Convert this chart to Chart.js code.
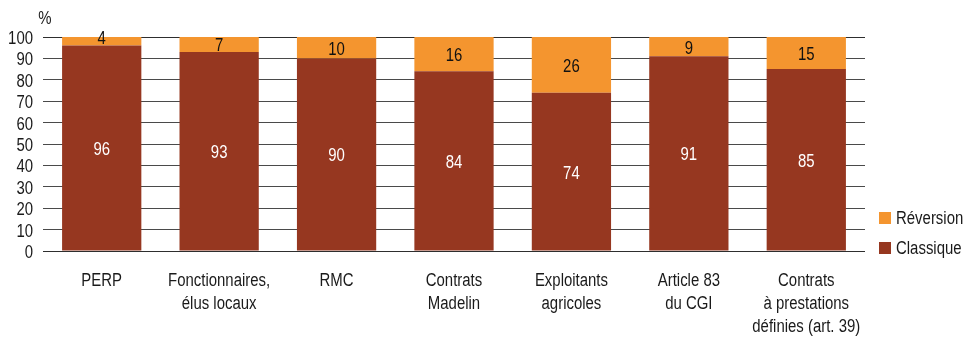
<!DOCTYPE html>
<html lang="fr">
<head>
<meta charset="utf-8">
<script src="https://cdn.jsdelivr.net/npm/chart.js@4"></script>
<style>
  html, body { margin: 0; padding: 0; background: #fff; }
  #wrap { position: relative; width: 964px; height: 338px; }
</style>
</head>
<body>
<div id="wrap"><canvas id="c" width="964" height="338"></canvas></div>
<script>
// Répartition des pensions : droits propres (classique) et droits dérivés (réversion), en %
const categories = [
  ["PERP"],
  ["Fonctionnaires,", "élus locaux"],
  ["RMC"],
  ["Contrats", "Madelin"],
  ["Exploitants", "agricoles"],
  ["Article 83", "du CGI"],
  ["Contrats", "à prestations", "définies (art. 39)"]
];
const classique = [96, 93, 90, 84, 74, 91, 85];
const reversion = [4, 7, 10, 16, 26, 9, 15];
const yTicks = [0, 10, 20, 30, 40, 50, 60, 70, 80, 90, 100];

const FONT = "'Liberation Sans', Arial, sans-serif";
const FONT_SIZE = 18;
const NARROW = 0.83;          // chasse étroite (type Arial Narrow)
const TEXT = "#1a1a1a";
const COL_CLASSIQUE = "#963720";
const COL_REVERSION = "#F4952F";

// Texte en chasse étroite : compression horizontale du tracé
function narrowText(ctx, str, x, y, align, color) {
  ctx.save();
  ctx.font = FONT_SIZE + "px " + FONT;
  ctx.fillStyle = color || TEXT;
  ctx.textAlign = align;
  ctx.textBaseline = "middle";
  ctx.translate(x, y);
  ctx.scale(NARROW, 1);
  ctx.fillText(str, 0, 0);
  ctx.restore();
}

// Libellés des axes, dessinés à partir des échelles du graphique
const axisLabels = {
  id: "axisLabels",
  afterDraw(chart) {
    const ctx = chart.ctx;
    const xs = chart.scales.x, ys = chart.scales.y;
    ys.ticks.forEach(t => {
      narrowText(ctx, String(t.value), xs.left - 10, ys.getPixelForValue(t.value) + 2, "right");
    });
    chart.data.labels.forEach((lines, i) => {
      const cx = xs.getPixelForTick(i);
      lines.forEach((line, k) => {
        narrowText(ctx, line, cx, xs.top + 30 + k * 23, "center");
      });
    });
    narrowText(ctx, "%", 45, 19, "center");
  }
};

// Valeur écrite au centre de chaque segment (en haut si le segment est trop fin)
const segmentLabels = {
  id: "segmentLabels",
  afterDatasetsDraw(chart) {
    chart.data.datasets.forEach((ds, di) => {
      chart.getDatasetMeta(di).data.forEach((bar, i) => {
        const h = Math.abs(bar.base - bar.y);
        const y = h < 12 ? Math.min(bar.y, bar.base) + 2 : (bar.y + bar.base) / 2 + 2;
        narrowText(chart.ctx, String(ds.data[i]), bar.x, y, "center", ds.labelColor);
      });
    });
  }
};

// Légende à droite (Réversion au-dessus de Classique)
const sideLegend = {
  id: "sideLegend",
  afterDraw(chart) {
    const ctx = chart.ctx;
    const x0 = chart.chartArea.right + 14;
    const items = [chart.data.datasets[1], chart.data.datasets[0]];
    const rows = [218, 248];
    items.forEach((ds, k) => {
      ctx.fillStyle = ds.backgroundColor;
      ctx.fillRect(x0, rows[k] - 6, 12, 12);
      narrowText(ctx, ds.label, x0 + 17, rows[k] + 1, "left");
    });
  }
};

new Chart(document.getElementById("c"), {
  type: "bar",
  data: {
    labels: categories,
    datasets: [
      { label: "Classique", data: classique, backgroundColor: COL_CLASSIQUE, labelColor: "#ffffff" },
      { label: "Réversion", data: reversion, backgroundColor: COL_REVERSION, labelColor: "#111111" }
    ]
  },
  options: {
    responsive: false,
    animation: false,
    devicePixelRatio: 1,
    layout: { padding: { top: 37, right: 99, left: 0, bottom: 0 } },
    datasets: { bar: { categoryPercentage: 1, barPercentage: 0.675, borderWidth: 0 } },
    plugins: { legend: { display: false }, tooltip: { enabled: false } },
    scales: {
      x: {
        stacked: true,
        grid: { display: false, drawTicks: false },
        border: { display: false },
        ticks: { color: "rgba(0,0,0,0)", font: { family: FONT, size: FONT_SIZE }, padding: 20, maxRotation: 0, autoSkip: false },
        afterFit(scale) { scale.height = 87; }
      },
      y: {
        stacked: true,
        min: 0,
        max: 100,
        afterBuildTicks(scale) { scale.ticks = yTicks.map(v => ({ value: v })); },
        grid: {
          drawTicks: false,
          lineWidth: 1,
          color: ctx => (ctx.tick && (ctx.tick.value === 0 || ctx.tick.value === 100)) ? "#2e2e2e" : "#4a4a4a"
        },
        border: { display: false },
        ticks: { color: "rgba(0,0,0,0)", font: { family: FONT, size: FONT_SIZE }, padding: 10, autoSkip: false },
        afterFit(scale) { scale.width = 43; }
      }
    }
  },
  plugins: [segmentLabels, axisLabels, sideLegend]
});
</script>
</body>
</html>
